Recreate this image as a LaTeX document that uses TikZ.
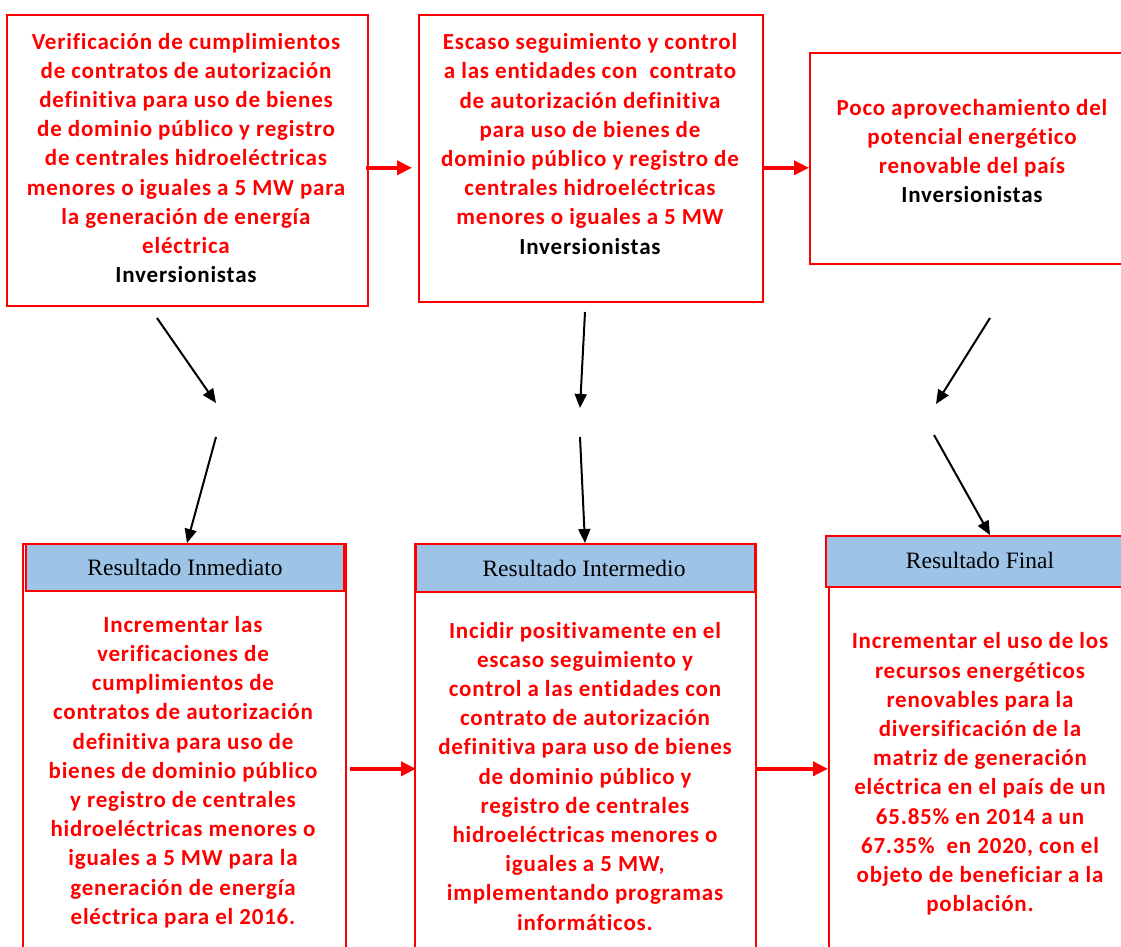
\documentclass[tikz,border=0pt]{standalone}
\usepackage{fontspec}
\usepackage{tikz}
\usetikzlibrary{arrows.meta}
\newfontfamily\boxfont{Carlito}[LetterSpace=3.5, Ligatures=NoCommon]
\newfontfamily\headfont{Liberation Serif}
\definecolor{hdblue}{HTML}{9DC3E6}

\begin{document}
\begin{tikzpicture}[x=1pt, y=-1pt,
	every node/.style={inner sep=0pt},
	redbox/.style={draw=red, line width=1.6pt, anchor=north west},
	headbox/.style={draw=red, fill=hdblue, line width=1.6pt, anchor=north west},
	headtxt/.style={font=\headfont\fontsize{23.5}{26}\selectfont},
	txt/.style={align=center, text=red, font=\boxfont\bfseries\fontsize{23}{29.2}\selectfont},
	redarrow/.style={red, line width=4pt, -{Triangle[length=15pt, width=14pt]}},
	blkarrow/.style={black, line width=2pt, -{Triangle[length=14pt, width=12pt]}}]
	\useasboundingbox (0,0) rectangle (1121,946);
	% top row
	\node[redbox, minimum width=361, minimum height=291] (v1) at (6,14) {};
	\node[redbox, minimum width=344, minimum height=287] (v2) at (418,14) {};
	\node[redbox, minimum width=330, minimum height=211] (v3) at (809,52) {};
	\node[txt] (t1) at (186,158) {Verificación de cumplimientos\\ de contratos de autorización\\ definitiva para uso de bienes\\ de dominio público y registro\\ de centrales hidroeléctricas\\ menores o iguales a 5 MW para\\ la generación de energía\\ eléctrica\\ \textcolor{black}{Inversionistas}};
	\node[txt] (t2) at (590,144) {Escaso seguimiento y control\\ a las entidades con\ \ contrato\\ de autorización definitiva\\ para uso de bienes de\\ dominio público y registro de\\ centrales hidroeléctricas\\ menores o iguales a 5 MW\\ \textcolor{black}{Inversionistas}};
	\node[txt] (t3) at (972,151) {Poco aprovechamiento del\\ potencial energético\\ renovable del país\\ \textcolor{black}{Inversionistas}};
	\draw[redarrow] ([shift={(-3,7.5)}]v1.east) -- ([shift={(-6,9.5)}]v2.west);
	\draw[redarrow] ([yshift=-9.5pt]v2.east) -- ([yshift=-9.5pt]v3.west);
	% bottom row
	\node[redbox, minimum width=323, minimum height=420] (r1) at (22,543) {};
	\node[redbox, minimum width=341, minimum height=420] (r2) at (414,543) {};
	\node[redbox, minimum width=310, minimum height=380] (r3) at (828,586) {};
	\node[headbox, minimum width=318, minimum height=47] (h1) at (25,543) {};
	\node[headbox, minimum width=339, minimum height=48] (h2) at (415,543) {};
	\node[headbox, minimum width=310, minimum height=51] (h3) at (825,535) {};
	\node[headtxt] (l1) at (185,567) {Resultado Inmediato};
	\node[headtxt] (l2) at (584,568) {Resultado Intermedio};
	\node[headtxt] (l3) at (980,560) {Resultado Final};
	\node[txt] (t4) at (183,772) {Incrementar las\\ verificaciones de\\ cumplimientos de\\ contratos de autorización\\ definitiva para uso de\\ bienes de dominio público\\ y registro de centrales\\ hidroeléctricas menores o\\ iguales a 5 MW para la\\ generación de energía\\ eléctrica para el 2016.};
	\node[txt] (t5) at (585,776) {Incidir positivamente en el\\ escaso seguimiento y\\ control a las entidades con\\ contrato de autorización\\ definitiva para uso de bienes\\ de dominio público y\\ registro de centrales\\ hidroeléctricas menores o\\ iguales a 5 MW,\\ implementando programas\\ informáticos.};
	\node[txt] (t6) at (980,774) {Incrementar el uso de los\\ recursos energéticos\\ renovables para la\\ diversificación de la\\ matriz de generación\\ eléctrica en el país de un\\ 65.85\% en 2014 a un\\ 67.35\%\ \ en 2020, con el\\ objeto de beneficiar a la\\ población.};
	\draw[redarrow] ([shift={(3,15)}]r1.east) -- ([shift={(2,15)}]r2.west);
	\draw[redarrow] ([yshift=-15pt]r2.east) -- ([yshift=8pt]r3.west);
	% black arrows between the rows
	\coordinate (a1) at (157,318); \coordinate (b1) at (216,403);
	\coordinate (c1) at (216,437);
	\coordinate (a2) at (585,312); \coordinate (b2) at (580,408);
	\coordinate (c2) at (580,437);
	\coordinate (a3) at (990,318); \coordinate (b3) at (936,404);
	\coordinate (c3) at (934,435);
	\draw[blkarrow] (a1) -- (b1);
	\draw[blkarrow] (c1) -- (h1.north -| 187,0);
	\draw[blkarrow] (a2) -- (b2);
	\draw[blkarrow] (c2) -- (h2.north -| 585,0);
	\draw[blkarrow] (a3) -- (b3);
	\draw[blkarrow] (c3) -- (h3.north -| 990,0);
\end{tikzpicture}
\end{document}
